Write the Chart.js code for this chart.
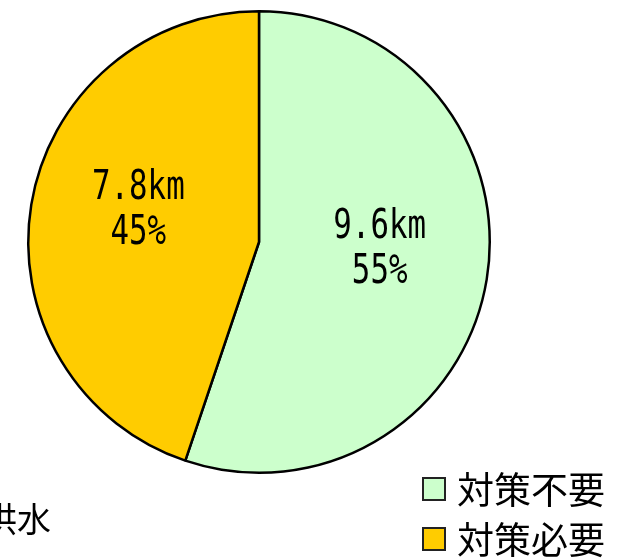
<!DOCTYPE html>
<html>
<head>
<meta charset="utf-8">
<script src="https://cdn.jsdelivr.net/npm/chart.js@4"></script>
<style>
  html, body { margin: 0; padding: 0; background: #ffffff; }
  #wrap { position: relative; width: 621px; height: 558px; }
</style>
</head>
<body>
<div id="wrap"><canvas id="c" width="621" height="558"></canvas></div>
<script>
const categories = ['対策不要', '対策必要'];
const lengthsKm = [9.6, 7.8];
const percentLabels = ['55%', '45%'];
const lengthLabels = ['9.6km', '7.8km'];
const sliceColors = ['#CCFFCC', '#FFCC00'];
const partialTitle = '洪水';

const labelPlugin = {
  id: 'sliceLabels',
  afterDatasetsDraw(chart) {
    const ctx = chart.ctx;
    const meta = chart.getDatasetMeta(0);
    meta.data.forEach((arc, i) => {
      const p = arc.getProps(['x', 'y', 'startAngle', 'endAngle', 'outerRadius'], true);
      const mid = (p.startAngle + p.endAngle) / 2;
      const r = p.outerRadius * 0.53;
      const cx = p.x + Math.cos(mid) * r;
      const cy = p.y + Math.sin(mid) * r - 12;
      ctx.save();
      ctx.fillStyle = '#000';
      ctx.textAlign = 'center';
      ctx.textBaseline = 'middle';
      ctx.font = '40px "DejaVu Sans Mono", monospace';
      ctx.translate(cx, cy);
      ctx.scale(0.77, 1);
      ctx.fillText(lengthLabels[i], 0, -22);
      ctx.fillText(percentLabels[i], 0, 23);
      ctx.restore();
    });
  },
  afterDraw(chart) {
    const ctx = chart.ctx;
    ctx.save();
    // legend
    const rows = [489, 539];
    categories.forEach((name, i) => {
      const y = rows[i];
      ctx.fillStyle = sliceColors[i];
      ctx.fillRect(423, y - 11, 22, 22);
      ctx.strokeStyle = '#222';
      ctx.lineWidth = 2;
      ctx.strokeRect(423, y - 11, 22, 22);
      ctx.fillStyle = '#000';
      ctx.font = '37px "Noto Sans CJK JP"';
      ctx.textAlign = 'left';
      ctx.textBaseline = 'middle';
      ctx.fillText(name, 457, y + 1);
    });
    // partially visible caption at bottom-left
    ctx.font = '34px "Noto Sans CJK JP"';
    ctx.textAlign = 'right';
    ctx.textBaseline = 'middle';
    ctx.fillStyle = '#000';
    ctx.fillText(partialTitle, 51, 519);
    ctx.restore();
  }
};

new Chart(document.getElementById('c'), {
  type: 'pie',
  data: {
    labels: categories,
    datasets: [{
      data: lengthsKm,
      backgroundColor: sliceColors,
      borderColor: '#000000',
      borderWidth: 2.5
    }]
  },
  options: {
    responsive: false,
    animation: false,
    layout: { padding: { left: 27, right: 130, top: 10, bottom: 84 } },
    plugins: {
      legend: { display: false },
      tooltip: { enabled: false },
      title: { display: false }
    }
  },
  plugins: [labelPlugin]
});
</script>
</body>
</html>
